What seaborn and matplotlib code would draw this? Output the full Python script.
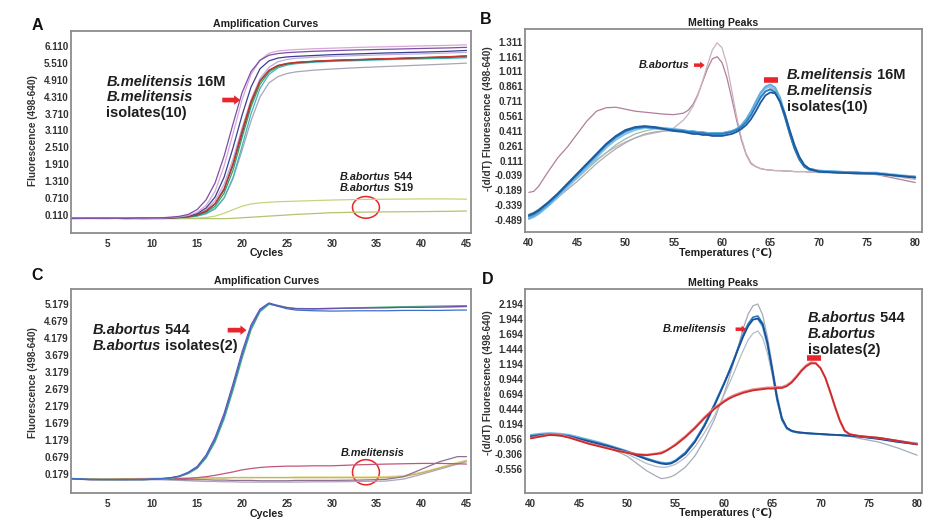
import matplotlib
matplotlib.use("Agg")
import matplotlib.pyplot as plt
import numpy as np
import pandas as pd
import seaborn as sns
from matplotlib.patches import Ellipse

# ---------------- data ----------------
A_CYC = [1, 3, 5, 7, 9, 11, 12, 13, 14, 15, 16, 17, 18, 19, 20, 21, 22, 23, 24, 25, 26, 28, 30, 33, 36, 40, 43, 45]
a_mel_purple = [0.00, -0.01, 0.00, -0.01, 0.00, 0.01, 0.03, 0.06, 0.13, 0.30, 0.65, 1.25, 2.20, 3.35, 4.45, 5.20, 5.60, 5.78, 5.84, 5.87, 5.89, 5.92, 5.94, 5.97, 5.99, 6.02, 6.04, 6.06]
a_mel_pink = [0.01, 0.00, 0.01, 0.00, -0.01, 0.00, 0.02, 0.04, 0.09, 0.20, 0.45, 0.95, 1.85, 3.00, 4.20, 5.10, 5.60, 5.85, 5.93, 5.96, 5.98, 6.01, 6.03, 6.06, 6.08, 6.11, 6.13, 6.15]
a_mel_navy = [-0.02, -0.01, 0.00, -0.01, 0.00, -0.01, 0.01, 0.03, 0.07, 0.16, 0.36, 0.75, 1.45, 2.50, 3.65, 4.65, 5.30, 5.58, 5.68, 5.72, 5.74, 5.77, 5.80, 5.83, 5.86, 5.89, 5.92, 5.95]
a_mel_lav = [0.00, 0.00, -0.01, 0.00, -0.01, 0.01, 0.02, 0.03, 0.06, 0.13, 0.30, 0.62, 1.20, 2.10, 3.20, 4.20, 4.95, 5.35, 5.55, 5.63, 5.67, 5.71, 5.74, 5.77, 5.80, 5.83, 5.86, 5.88]
a_mel_red = [-0.01, 0.00, -0.01, 0.00, -0.02, -0.01, 0.00, 0.02, 0.05, 0.12, 0.26, 0.52, 1.05, 1.95, 3.10, 4.15, 4.88, 5.25, 5.42, 5.49, 5.53, 5.57, 5.60, 5.63, 5.66, 5.70, 5.73, 5.76]
a_mel_dark = [-0.01, 0.00, 0.00, -0.02, -0.01, 0.00, 0.01, 0.02, 0.05, 0.11, 0.24, 0.50, 1.00, 1.88, 3.00, 4.08, 4.85, 5.24, 5.41, 5.48, 5.52, 5.56, 5.59, 5.62, 5.65, 5.69, 5.72, 5.75]
a_mel_green = [0.00, -0.01, -0.02, 0.00, -0.01, 0.00, 0.01, 0.02, 0.04, 0.09, 0.20, 0.42, 0.88, 1.70, 2.85, 3.95, 4.75, 5.18, 5.38, 5.46, 5.51, 5.56, 5.59, 5.62, 5.65, 5.68, 5.70, 5.72]
a_mel_teal = [0.01, 0.00, -0.01, -0.01, 0.00, -0.01, 0.00, 0.02, 0.03, 0.07, 0.16, 0.34, 0.72, 1.45, 2.55, 3.70, 4.60, 5.10, 5.33, 5.43, 5.48, 5.53, 5.56, 5.59, 5.62, 5.65, 5.67, 5.69]
a_mel_grey = [0.00, 0.01, 0.00, -0.01, 0.00, 0.00, 0.01, 0.02, 0.04, 0.08, 0.15, 0.32, 0.70, 1.40, 2.40, 3.45, 4.30, 4.80, 5.02, 5.13, 5.19, 5.25, 5.29, 5.34, 5.38, 5.43, 5.47, 5.50]
a_abo_544 = [0.00, -0.01, 0.00, -0.01, -0.02, -0.01, -0.01, -0.01, 0.00, 0.00, 0.02, 0.07, 0.17, 0.30, 0.42, 0.50, 0.54, 0.56, 0.58, 0.59, 0.60, 0.62, 0.64, 0.66, 0.67, 0.68, 0.68, 0.67]
a_abo_s19 = [-0.01, -0.02, -0.01, -0.02, -0.02, -0.03, -0.02, -0.02, -0.02, -0.02, -0.02, -0.02, -0.02, -0.01, 0.01, 0.03, 0.05, 0.07, 0.09, 0.11, 0.13, 0.16, 0.19, 0.21, 0.22, 0.23, 0.24, 0.25]

B_T = [40, 40.5, 41, 42, 43, 44, 45, 46, 47, 48, 49, 50, 51, 52, 53, 54, 55, 56, 56.5, 57, 57.5, 58, 58.5, 59, 59.5, 60, 60.5, 61, 61.5, 62, 62.5, 63, 63.5, 64, 64.5, 65, 65.5, 66, 66.5, 67, 67.5, 68, 68.5, 69, 70, 72, 74, 76, 77, 78, 80]
b_abo_mauve = [-0.21, -0.20, -0.15, 0.00, 0.14, 0.25, 0.38, 0.51, 0.61, 0.645, 0.65, 0.63, 0.61, 0.60, 0.59, 0.58, 0.575, 0.59, 0.62, 0.68, 0.78, 0.91, 1.04, 1.14, 1.16, 1.10, 0.95, 0.74, 0.52, 0.32, 0.17, 0.08, 0.05, 0.03, 0.02, 0.015, 0.01, 0.01, 0.005, 0.005, 0.00, 0.00, 0.00, -0.005, -0.005, -0.01, -0.015, -0.03, -0.05, -0.07, -0.11]
b_abo_grey = [-0.47, -0.45, -0.42, -0.34, -0.25, -0.15, -0.06, 0.04, 0.12, 0.19, 0.25, 0.30, 0.34, 0.37, 0.39, 0.41, 0.44, 0.52, 0.58, 0.66, 0.77, 0.92, 1.08, 1.23, 1.30, 1.25, 1.08, 0.82, 0.56, 0.34, 0.18, 0.09, 0.05, 0.03, 0.02, 0.015, 0.01, 0.01, 0.005, 0.005, 0.00, 0.00, 0.00, -0.005, -0.01, -0.015, -0.02, -0.03, -0.04, -0.05, -0.08]
b_mel_grey = [-0.46, -0.44, -0.41, -0.34, -0.26, -0.18, -0.10, -0.01, 0.08, 0.16, 0.23, 0.29, 0.34, 0.38, 0.40, 0.41, 0.41, 0.41, 0.40, 0.40, 0.40, 0.39, 0.39, 0.39, 0.39, 0.39, 0.40, 0.41, 0.43, 0.47, 0.53, 0.61, 0.70, 0.79, 0.85, 0.86, 0.82, 0.71, 0.55, 0.38, 0.23, 0.12, 0.05, 0.02, 0.00, -0.01, -0.01, -0.02, -0.03, -0.04, -0.06]
b_mel_sage = [-0.43, -0.41, -0.38, -0.31, -0.23, -0.15, -0.07, 0.02, 0.11, 0.19, 0.27, 0.33, 0.38, 0.41, 0.43, 0.43, 0.42, 0.41, 0.40, 0.40, 0.39, 0.39, 0.38, 0.38, 0.38, 0.38, 0.39, 0.40, 0.42, 0.46, 0.51, 0.58, 0.67, 0.75, 0.81, 0.84, 0.81, 0.72, 0.56, 0.39, 0.24, 0.13, 0.06, 0.02, 0.00, -0.01, -0.01, -0.02, -0.03, -0.04, -0.05]
b_mel_sky = [-0.48, -0.46, -0.43, -0.35, -0.26, -0.16, -0.06, 0.04, 0.14, 0.24, 0.32, 0.38, 0.42, 0.44, 0.44, 0.43, 0.42, 0.41, 0.40, 0.40, 0.39, 0.39, 0.38, 0.38, 0.38, 0.38, 0.39, 0.41, 0.43, 0.46, 0.52, 0.60, 0.69, 0.78, 0.84, 0.86, 0.83, 0.73, 0.57, 0.40, 0.25, 0.13, 0.06, 0.03, 0.01, 0.00, -0.01, -0.01, -0.02, -0.03, -0.05]
b_mel_light = [-0.47, -0.45, -0.42, -0.34, -0.24, -0.14, -0.04, 0.06, 0.16, 0.26, 0.34, 0.40, 0.44, 0.45, 0.45, 0.44, 0.43, 0.42, 0.41, 0.41, 0.40, 0.40, 0.39, 0.39, 0.39, 0.39, 0.40, 0.41, 0.43, 0.47, 0.53, 0.61, 0.71, 0.80, 0.86, 0.88, 0.85, 0.75, 0.59, 0.41, 0.25, 0.13, 0.06, 0.03, 0.01, 0.00, -0.01, -0.02, -0.03, -0.04, -0.05]
b_mel_blue = [-0.45, -0.43, -0.40, -0.32, -0.23, -0.13, -0.03, 0.07, 0.17, 0.27, 0.35, 0.41, 0.44, 0.45, 0.44, 0.43, 0.42, 0.41, 0.40, 0.40, 0.39, 0.39, 0.38, 0.38, 0.38, 0.38, 0.39, 0.40, 0.42, 0.45, 0.50, 0.57, 0.66, 0.75, 0.81, 0.83, 0.80, 0.70, 0.55, 0.38, 0.23, 0.12, 0.05, 0.02, 0.00, -0.01, -0.01, -0.02, -0.03, -0.04, -0.06]
b_mel_dark = [-0.44, -0.42, -0.39, -0.31, -0.22, -0.12, -0.02, 0.08, 0.18, 0.28, 0.36, 0.42, 0.45, 0.46, 0.45, 0.43, 0.41, 0.40, 0.39, 0.38, 0.38, 0.37, 0.37, 0.36, 0.36, 0.36, 0.37, 0.38, 0.40, 0.43, 0.47, 0.53, 0.61, 0.70, 0.77, 0.80, 0.79, 0.71, 0.58, 0.42, 0.27, 0.15, 0.07, 0.03, 0.00, -0.01, -0.02, -0.02, -0.03, -0.04, -0.06]

C_CYC = [1, 3, 5, 7, 9, 11, 12, 13, 14, 15, 16, 17, 18, 19, 20, 21, 22, 23, 24, 25, 26, 28, 30, 33, 36, 38, 40, 42, 44, 45]
c_abo_blue = [0.06, 0.03, 0.03, 0.02, 0.03, 0.05, 0.07, 0.12, 0.22, 0.38, 0.70, 1.20, 1.88, 2.75, 3.68, 4.50, 5.00, 5.20, 5.12, 5.05, 5.01, 4.99, 4.98, 4.99, 4.99, 5.00, 5.00, 5.00, 5.01, 5.01]
c_abo_purple = [0.05, 0.02, 0.03, 0.03, 0.02, 0.05, 0.08, 0.13, 0.24, 0.41, 0.75, 1.27, 1.97, 2.85, 3.78, 4.57, 5.04, 5.22, 5.14, 5.08, 5.05, 5.05, 5.06, 5.07, 5.08, 5.09, 5.09, 5.10, 5.11, 5.12]
c_abo_green = [0.04, 0.03, 0.02, 0.03, 0.02, 0.04, 0.06, 0.11, 0.20, 0.35, 0.66, 1.13, 1.80, 2.65, 3.58, 4.42, 4.96, 5.18, 5.13, 5.08, 5.05, 5.04, 5.05, 5.08, 5.10, 5.11, 5.12, 5.13, 5.14, 5.14]
c_abo_grey = [0.05, 0.03, 0.02, 0.02, 0.03, 0.04, 0.06, 0.11, 0.21, 0.37, 0.68, 1.17, 1.84, 2.70, 3.63, 4.46, 4.98, 5.19, 5.15, 5.09, 5.06, 5.05, 5.06, 5.07, 5.08, 5.09, 5.10, 5.10, 5.11, 5.11]
c_mel_red = [0.05, 0.03, 0.02, 0.03, 0.04, 0.05, 0.05, 0.05, 0.06, 0.08, 0.11, 0.15, 0.20, 0.25, 0.31, 0.35, 0.38, 0.40, 0.41, 0.42, 0.42, 0.43, 0.43, 0.46, 0.48, 0.49, 0.50, 0.50, 0.49, 0.48]
c_mel_purple = [0.04, 0.03, 0.02, 0.02, 0.03, 0.03, 0.03, 0.03, 0.02, 0.02, 0.02, 0.01, 0.01, 0.00, 0.00, 0.00, -0.01, -0.01, -0.01, -0.01, 0.00, 0.00, 0.00, 0.01, 0.03, 0.11, 0.33, 0.55, 0.70, 0.70]
c_mel_olive = [0.05, 0.04, 0.04, 0.05, 0.05, 0.06, 0.06, 0.06, 0.06, 0.07, 0.07, 0.07, 0.07, 0.08, 0.08, 0.08, 0.08, 0.08, 0.08, 0.08, 0.08, 0.08, 0.08, 0.08, 0.08, 0.11, 0.22, 0.36, 0.50, 0.57]
c_mel_grey = [0.04, 0.02, 0.02, 0.02, 0.02, 0.02, 0.01, 0.00, -0.01, -0.02, -0.03, -0.03, -0.04, -0.04, -0.05, -0.05, -0.05, -0.05, -0.05, -0.05, -0.05, -0.04, -0.04, -0.03, -0.02, 0.04, 0.18, 0.33, 0.48, 0.55]
c_mel_yellow = [0.05, 0.05, 0.04, 0.05, 0.06, 0.06, 0.07, 0.07, 0.07, 0.07, 0.08, 0.08, 0.08, 0.09, 0.09, 0.09, 0.09, 0.09, 0.09, 0.09, 0.10, 0.10, 0.10, 0.10, 0.11, 0.14, 0.24, 0.38, 0.53, 0.60]

D_T = [40, 41, 42, 43, 44, 45, 46, 47, 48, 49, 50, 51, 52, 53, 53.5, 54, 54.5, 55, 56, 57, 58, 59, 60, 60.5, 61, 61.5, 62, 62.5, 63, 63.5, 64, 64.5, 65, 65.5, 66, 66.5, 67, 67.5, 68, 68.5, 69, 69.5, 70, 70.5, 71, 71.5, 72, 72.5, 73, 74, 76, 78, 80]
d_mel_grey_hi = [-0.02, 0.00, 0.01, 0.00, -0.02, -0.05, -0.09, -0.14, -0.19, -0.26, -0.34, -0.46, -0.58, -0.67, -0.71, -0.70, -0.68, -0.64, -0.52, -0.33, -0.06, 0.27, 0.70, 0.95, 1.22, 1.50, 1.80, 2.03, 2.17, 2.20, 2.02, 1.65, 1.18, 0.70, 0.32, 0.14, 0.08, 0.06, 0.05, 0.04, 0.035, 0.03, 0.025, 0.02, 0.015, 0.01, 0.005, 0.00, -0.005, -0.04, -0.10, -0.20, -0.32]
d_mel_grey_lo = [0.01, 0.03, 0.04, 0.03, 0.01, -0.03, -0.07, -0.11, -0.16, -0.22, -0.30, -0.38, -0.46, -0.51, -0.52, -0.52, -0.50, -0.47, -0.36, -0.18, 0.06, 0.33, 0.68, 0.86, 1.04, 1.24, 1.43, 1.60, 1.71, 1.75, 1.64, 1.38, 1.02, 0.60, 0.28, 0.12, 0.08, 0.06, 0.05, 0.045, 0.04, 0.035, 0.03, 0.025, 0.02, 0.02, 0.015, 0.01, 0.005, -0.01, -0.05, -0.10, -0.14]
d_mel_light = [0.02, 0.04, 0.05, 0.04, 0.02, -0.02, -0.06, -0.10, -0.15, -0.20, -0.25, -0.31, -0.37, -0.42, -0.44, -0.45, -0.44, -0.40, -0.27, -0.07, 0.20, 0.53, 0.88, 1.06, 1.26, 1.47, 1.67, 1.84, 1.94, 1.95, 1.82, 1.50, 1.05, 0.58, 0.26, 0.12, 0.08, 0.06, 0.05, 0.045, 0.04, 0.035, 0.03, 0.025, 0.02, 0.02, 0.015, 0.01, 0.005, -0.01, -0.03, -0.08, -0.12]
d_mel_blue = [0.00, 0.02, 0.03, 0.02, 0.00, -0.04, -0.08, -0.12, -0.16, -0.21, -0.26, -0.32, -0.38, -0.43, -0.45, -0.46, -0.45, -0.41, -0.28, -0.08, 0.19, 0.52, 0.88, 1.07, 1.27, 1.49, 1.70, 1.87, 1.98, 2.00, 1.88, 1.56, 1.10, 0.62, 0.28, 0.13, 0.08, 0.06, 0.05, 0.045, 0.04, 0.035, 0.03, 0.025, 0.02, 0.02, 0.015, 0.01, 0.005, -0.01, -0.04, -0.09, -0.13]
d_mel_navy = [-0.01, 0.01, 0.02, 0.01, -0.01, -0.05, -0.09, -0.13, -0.17, -0.22, -0.27, -0.33, -0.39, -0.44, -0.46, -0.47, -0.46, -0.42, -0.30, -0.10, 0.17, 0.50, 0.86, 1.05, 1.25, 1.46, 1.66, 1.83, 1.94, 1.96, 1.86, 1.55, 1.10, 0.63, 0.29, 0.14, 0.09, 0.07, 0.06, 0.05, 0.045, 0.04, 0.035, 0.03, 0.025, 0.02, 0.015, 0.01, 0.005, -0.01, -0.05, -0.10, -0.14]
d_abo_pink = [-0.03, 0.00, 0.03, 0.02, -0.02, -0.07, -0.12, -0.16, -0.20, -0.24, -0.27, -0.30, -0.31, -0.29, -0.27, -0.24, -0.19, -0.13, 0.00, 0.15, 0.32, 0.47, 0.59, 0.64, 0.68, 0.71, 0.74, 0.76, 0.78, 0.79, 0.80, 0.81, 0.81, 0.82, 0.82, 0.85, 0.91, 1.00, 1.10, 1.18, 1.23, 1.22, 1.13, 0.96, 0.72, 0.47, 0.24, 0.08, 0.03, 0.00, -0.03, -0.08, -0.13]
d_abo_red = [-0.04, -0.01, 0.02, 0.01, -0.03, -0.08, -0.13, -0.17, -0.21, -0.25, -0.28, -0.31, -0.32, -0.30, -0.29, -0.25, -0.20, -0.15, -0.02, 0.13, 0.30, 0.45, 0.57, 0.62, 0.66, 0.69, 0.72, 0.74, 0.76, 0.77, 0.78, 0.79, 0.79, 0.80, 0.80, 0.83, 0.89, 0.98, 1.08, 1.16, 1.21, 1.21, 1.13, 0.97, 0.74, 0.49, 0.26, 0.09, 0.03, 0.00, -0.03, -0.08, -0.14]

A_YT = [0.110, 0.710, 1.310, 1.910, 2.510, 3.110, 3.710, 4.310, 4.910, 5.510, 6.110]
B_YT = [-0.489, -0.339, -0.189, -0.039, 0.111, 0.261, 0.411, 0.561, 0.711, 0.861, 1.011, 1.161, 1.311]
C_YT = [0.179, 0.679, 1.179, 1.679, 2.179, 2.679, 3.179, 3.679, 4.179, 4.679, 5.179]
D_YT = [-0.556, -0.306, -0.056, 0.194, 0.444, 0.694, 0.944, 1.194, 1.444, 1.694, 1.944, 2.194]
CYC_XT = [5, 10, 15, 20, 25, 30, 35, 40, 45]
TEMP_XT = [40, 45, 50, 55, 60, 65, 70, 75, 80]

# ---------------- style ----------------
sns.set_style("white")
plt.rcParams["font.family"] = ["Liberation Sans", "DejaVu Sans"]
plt.rcParams["font.weight"] = "bold"

W, H = 945, 523
fig = plt.figure(figsize=(W / 100, H / 100), dpi=100)
RED = "#e8252a"
TXT = "#1e1e1e"


def fx(x):
    return x / W


def fy(y):
    return 1 - y / H


def add_ax(l, t, r, b):
    return fig.add_axes([l / W, 1 - b / H, (r - l) / W, (b - t) / H])


def draw(ax, x, curves, lw):
    frames = []
    pal = {}
    for name, vals, col in curves:
        frames.append(pd.DataFrame({"x": x, "y": vals, "curve": name}))
        pal[name] = col
    df = pd.concat(frames, ignore_index=True)
    sns.lineplot(data=df, x="x", y="y", hue="curve", palette=pal, legend=False,
                 estimator=None, sort=False, linewidth=lw, ax=ax)


def style(ax, xlim, ylim, xt, yt):
    ax.set_xlim(*xlim)
    ax.set_ylim(*ylim)
    ax.set_xticks(xt)
    ax.set_xticklabels([str(v) for v in xt])
    ax.set_yticks(yt)
    ax.set_yticklabels([f"{v:.3f}" for v in yt])
    ax.tick_params(axis="both", length=0, labelsize=7.1, colors="#333333")
    ax.tick_params(axis="x", pad=4)
    ax.tick_params(axis="y", pad=1.5)
    for lab in ax.get_xticklabels() + ax.get_yticklabels():
        lab.set_fontweight("bold")
    for s in ax.spines.values():
        s.set_color("#8c8c8c")
        s.set_linewidth(1.3)
    ax.set_xlabel("")
    ax.set_ylabel("")
    ax.grid(False)


def mixed(ax, x, y, parts, size):
    t = ax.text(x, y, parts[0][0], fontsize=size, fontweight="bold", fontstyle=parts[0][1],
                va="center", ha="left", color=TXT)
    for s, st in parts[1:]:
        t = ax.annotate(s, xy=(1, 0), xycoords=t, va="bottom", ha="left", fontsize=size,
                        fontweight="bold", fontstyle=st, color=TXT)


def arrow(ax, x0, x1, y, scale):
    ax.annotate("", xy=(x1, y), xytext=(x0, y),
                arrowprops=dict(arrowstyle="simple,head_length=0.55,head_width=0.85,tail_width=0.42",
                                fc=RED, ec=RED, lw=0, shrinkA=0, shrinkB=0, mutation_scale=scale))


def labels(ax_cx, title, ty, xlabel, xy_, ylabel, yx, yy):
    fig.text(fx(ax_cx), fy(ty), title, ha="center", va="center", fontsize=7.6, fontweight="bold", color=TXT)
    fig.text(fx(xy_[0]), fy(xy_[1]), xlabel, ha="center", va="center", fontsize=7.7, fontweight="bold", color=TXT)
    fig.text(fx(yx), fy(yy), ylabel, ha="center", va="center", rotation=90, fontsize=7.2, fontweight="bold", color="#333333")


# ---------------- Panel A ----------------
axA = add_ax(71, 31, 471, 233)
draw(axA, A_CYC, [("ab544", a_abo_544, "#c5d47c"), ("abS19", a_abo_s19, "#b3c46c")], 0.9)
draw(axA, A_CYC, [
    ("grey", a_mel_grey, "#a5a6b8"), ("teal", a_mel_teal, "#43b6c2"), ("green", a_mel_green, "#3a9f5c"),
    ("lav", a_mel_lav, "#bdaede"), ("dark", a_mel_dark, "#4a4a55"), ("red", a_mel_red, "#d0342c"),
    ("navy", a_mel_navy, "#3a3f8f"), ("pink", a_mel_pink, "#d9a6d6"), ("purple", a_mel_purple, "#7d4fa8"),
], 0.9)
style(axA, (0.95, 45.5), (-0.53, 6.64), CYC_XT, A_YT)
mixed(axA, 4.9, 4.84, [("B.melitensis", "italic"), (" 16M", "normal")], 10.5)
mixed(axA, 4.9, 4.28, [("B.melitensis", "italic")], 10.5)
mixed(axA, 4.9, 3.72, [("isolates(10)", "normal")], 10.5)
arrow(axA, 17.8, 19.8, 4.19, 8)
mixed(axA, 30.9, 1.47, [("B.abortus", "italic"), (" 544", "normal")], 7.8)
mixed(axA, 30.9, 1.06, [("B.abortus", "italic"), (" S19", "normal")], 7.8)
axA.add_patch(Ellipse((33.8, 0.38), 3.0, 0.77, fill=False, ec=RED, lw=1.1))
labels(266, "Amplification Curves", 24, "Cycles", (267, 253), "Fluorescence (498-640)", 33, 131)
fig.text(fx(37.5), fy(25), "A", ha="center", va="center", fontsize=11.5, fontweight="bold", color="#111111")

# ---------------- Panel B ----------------
axB = add_ax(525, 29, 922, 232)
draw(axB, B_T, [("mauve", b_abo_mauve, "#b27e9b"), ("agrey", b_abo_grey, "#c9b4be")], 0.9)
draw(axB, B_T, [("mgrey", b_mel_grey, "#a9abae"), ("sage", b_mel_sage, "#9dbcae")], 0.9)
draw(axB, B_T, [("sky", b_mel_sky, "#86c3ea"), ("light", b_mel_light, "#5eaee0"),
                ("blue", b_mel_blue, "#2b7bc0"), ("dark", b_mel_dark, "#1c5a9e")], 1.3)
style(axB, (39.6, 80.7), (-0.61, 1.44), TEMP_XT, B_YT)
mixed(axB, 51.4, 1.075, [("B.abortus", "italic")], 7.8)
arrow(axB, 57.1, 58.2, 1.075, 6)
axB.plot([64.3, 65.8], [0.924, 0.924], color=RED, lw=4, solid_capstyle="butt")
mixed(axB, 66.7, 0.974, [("B.melitensis", "italic"), (" 16M", "normal")], 10.5)
mixed(axB, 66.7, 0.816, [("B.melitensis", "italic")], 10.5)
mixed(axB, 66.7, 0.648, [("isolates(10)", "normal")], 10.5)
labels(723, "Melting Peaks", 23, "Temperatures (\u2103)", (725, 253), "-(d/dT) Fluorescence (498-640)", 488, 119)
fig.text(fx(486), fy(19), "B", ha="center", va="center", fontsize=11.5, fontweight="bold", color="#111111")

# ---------------- Panel C ----------------
axC = add_ax(71, 289, 471, 493)
draw(axC, C_CYC, [("yellow", c_mel_yellow, "#e4d67c"), ("olive", c_mel_olive, "#c6b25a"),
                  ("mgrey", c_mel_grey, "#a8a8b6"), ("mpurple", c_mel_purple, "#8f6f98"),
                  ("mred", c_mel_red, "#c4557a")], 0.9)
draw(axC, C_CYC, [("agrey", c_abo_grey, "#9aa3b5"), ("green", c_abo_green, "#4fb87a"),
                  ("purple", c_abo_purple, "#6a4fb0"), ("blue", c_abo_blue, "#3d6fc4")], 0.9)
style(axC, (0.95, 45.5), (-0.37, 5.63), CYC_XT, C_YT)
mixed(axC, 3.4, 4.42, [("B.abortus", "italic"), (" 544", "normal")], 10.5)
mixed(axC, 3.4, 3.95, [("B.abortus", "italic"), (" isolates(2)", "normal")], 10.5)
arrow(axC, 18.4, 20.5, 4.42, 8)
mixed(axC, 31.0, 0.80, [("B.melitensis", "italic")], 7.8)
axC.add_patch(Ellipse((33.8, 0.24), 3.0, 0.74, fill=False, ec=RED, lw=1.1))
labels(267, "Amplification Curves", 281, "Cycles", (267, 514), "Fluorescence (498-640)", 33, 383)
fig.text(fx(37.5), fy(275), "C", ha="center", va="center", fontsize=11.5, fontweight="bold", color="#111111")

# ---------------- Panel D ----------------
axD = add_ax(525, 289, 922, 493)
draw(axD, D_T, [("ghi", d_mel_grey_hi, "#a3acb8"), ("glo", d_mel_grey_lo, "#b4bcc6")], 0.9)
draw(axD, D_T, [("light", d_mel_light, "#6bb5e3"), ("blue", d_mel_blue, "#2b7bc0"),
                ("navy", d_mel_navy, "#1d4f96")], 1.2)
draw(axD, D_T, [("pink", d_abo_pink, "#e6898f"), ("red", d_abo_red, "#cf2a2a")], 1.3)
style(axD, (39.4, 80.5), (-0.95, 2.45), TEMP_XT, D_YT)
mixed(axD, 53.7, 1.78, [("B.melitensis", "italic")], 7.8)
arrow(axD, 61.2, 62.3, 1.78, 6)
axD.plot([68.55, 70.0], [1.305, 1.305], color=RED, lw=4, solid_capstyle="butt")
mixed(axD, 68.7, 1.96, [("B.abortus", "italic"), (" 544", "normal")], 10.5)
mixed(axD, 68.7, 1.70, [("B.abortus", "italic")], 10.5)
mixed(axD, 68.7, 1.43, [("isolates(2)", "normal")], 10.5)
labels(723, "Melting Peaks", 283, "Temperatures (\u2103)", (725, 513), "-(d/dT) Fluorescence (498-640)", 488, 383)
fig.text(fx(487.5), fy(280), "D", ha="center", va="center", fontsize=11.5, fontweight="bold", color="#111111")

fig.savefig("out.png", dpi=100, facecolor="white")
